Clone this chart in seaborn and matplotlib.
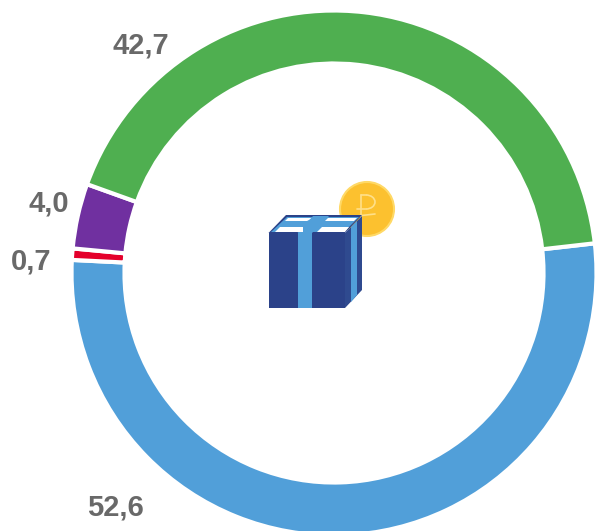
import matplotlib
matplotlib.use("Agg")
import matplotlib.pyplot as plt
from matplotlib.patches import Polygon, Circle, Arc
import seaborn as sns

sns.set_theme(style="white")
plt.rcParams['font.family'] = ['Liberation Sans', 'DejaVu Sans']

segments = ["blue", "red", "purple", "green"]
values = [52.6, 0.7, 4.0, 42.7]
labels = ["52,6", "0,7", "4,0", "42,7"]
colors = ["#519FD9", "#E4002B", "#7030A0", "#4FAF50"]
label_pos = [(115, 507), (31, 261), (49, 204), (141, 45)]

W, H = 595, 531
fig = plt.figure(figsize=(W / 100, H / 100), dpi=100)
ax = fig.add_axes([0, 0, 1, 1])
Y = lambda y: H - y

ax.pie(values, colors=colors, startangle=6.5, counterclock=False,
       center=(334, Y(273)), radius=262.5,
       wedgeprops=dict(width=53, edgecolor="white", linewidth=3))
ax.set_xlim(0, W)
ax.set_ylim(0, H)
ax.set_aspect("equal")
ax.axis("off")

for t, (x, y) in zip(labels, label_pos):
    ax.text(x, Y(y), t, ha="center", va="center", fontsize=21,
            fontweight="bold", color="#696969")

def poly(pts, c, z=5):
    ax.add_patch(Polygon([(x, Y(y)) for x, y in pts], closed=True, fc=c, ec="none", zorder=z))

# icon: coin
ax.add_patch(Circle((367, Y(209)), 27, fc="#FCC12F", ec="#FFD966", lw=1.5, zorder=4))
rub = "#FFE08A"
ax.plot([361, 361], [Y(195), Y(226)], color=rub, lw=1.2, zorder=4.5)
ax.plot([357, 375], [Y(216), Y(214)], color=rub, lw=1.2, zorder=4.5)
ax.add_patch(Arc((366, Y(202)), 18, 14, theta1=-90, theta2=90, color=rub, lw=1.2, zorder=4.5))
ax.plot([361, 366], [Y(195), Y(195)], color=rub, lw=1.2, zorder=4.5)
ax.plot([357, 366], [Y(209), Y(209)], color=rub, lw=1.2, zorder=4.5)

# icon: box
dark = "#2B4289"
rib = "#519FD9"
poly([(268.5, 233), (345, 233), (345, 308), (268.5, 308)], dark)
poly([(345, 233), (362, 216), (362, 290), (345, 308)], "#2F4A8F")
poly([(268.5, 233), (286, 215), (362, 215), (345, 233)], dark)
poly([(271, 232), (287, 217), (359, 217), (344, 232)], rib, 5.5)
poly([(275, 232), (303, 232), (303, 227), (280, 227)], "white", 8)
poly([(317, 232), (345, 232), (349, 227), (322, 227)], "white", 8)
poly([(285, 221), (307, 221), (313, 218), (288, 218)], "white", 6)
poly([(325, 221), (354, 221), (357, 218), (328, 218)], "white", 6)
poly([(297.5, 233), (312, 233), (329, 216), (313, 216)], rib, 7)
poly([(297.5, 308), (312, 308), (312, 233), (297.5, 233)], rib, 7)
poly([(351, 227), (357, 221), (357, 295), (351, 302)], rib, 7)

fig.savefig("out.png", dpi=100)
